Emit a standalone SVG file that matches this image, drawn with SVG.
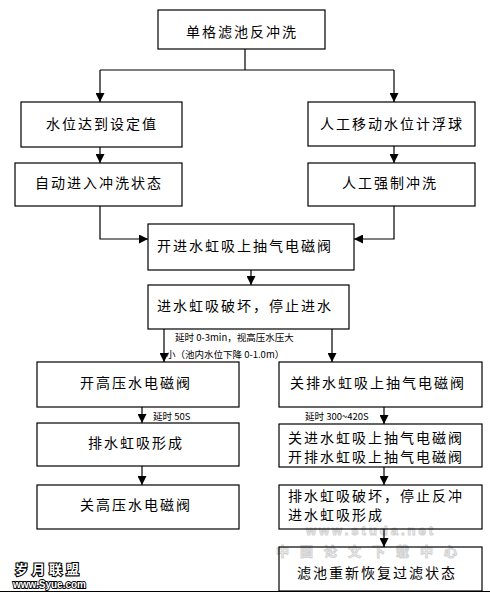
<svg xmlns="http://www.w3.org/2000/svg" width="490" height="593" viewBox="0 0 490 593">
<defs>
<marker id="ah" markerUnits="userSpaceOnUse" markerWidth="9" markerHeight="9" refX="9" refY="4.5" orient="auto">
<path d="M0,0 L9,4.5 L0,9 z" fill="#000"/>
</marker>
<style>
.box{fill:#fff;stroke:#000;stroke-width:1.2}
.t{font-family:"Noto Sans CJK SC","Noto Sans",sans-serif;font-size:14px;letter-spacing:2px;fill:#000}
.c{text-anchor:middle}
.s{font-family:"Noto Sans CJK SC","Liberation Serif",serif;font-size:9.5px;fill:#000}
.ln{fill:none;stroke:#000;stroke-width:1.2}
.ar{fill:none;stroke:#000;stroke-width:1.2;marker-end:url(#ah)}
.wm{font-weight:bold;fill:#f4f4f4;stroke:#c4c4c4;stroke-width:1}
</style>
</defs>
<rect width="490" height="593" fill="#fff"/>

<g id="watermark" opacity="0.75">
<text class="wm" x="371" y="535" font-family="Liberation Sans,sans-serif" font-size="13" letter-spacing="3" text-anchor="middle">www.studa.net</text>
<text class="wm" x="372" y="556" font-family="Noto Sans CJK SC,sans-serif" font-size="13" letter-spacing="11" text-anchor="middle">中国论文下载中心</text>
</g>

<g id="connectors">
<path class="ln" d="M245,49 V70 M100,70 H394"/>
<path class="ar" d="M100,70 V102"/>
<path class="ar" d="M394,70 V102"/>
<path class="ar" d="M100,147 V163"/>
<path class="ar" d="M394,146 V163"/>
<path class="ar" d="M100,206 V239 H148"/>
<path class="ar" d="M394,206 V239 H354"/>
<path class="ar" d="M251,270 V285"/>
<path class="ar" d="M164,329 V362"/>
<path class="ar" d="M332,329 V362"/>
<path class="ar" d="M142,407 V423"/>
<path class="ar" d="M384,407 V424"/>
<path class="ar" d="M142,466 V485"/>
<path class="ar" d="M384,467 V485"/>
<path class="ar" d="M384,529 V547"/>
<text class="s" x="175" y="341">延时 0-3min，视高压水压大</text>
<text class="s" x="166" y="358">小（池内水位下降 0-1.0m）</text>
<text class="s" x="153" y="420">延时 50S</text>
<text class="s" x="305" y="420">延时 300~420S</text>
</g>

<g id="n1"><rect class="box" x="158" y="10" width="167" height="39"/><text class="t c" x="242" y="37">单格滤池反冲洗</text></g>
<g id="n2"><rect class="box" x="21" y="102" width="161" height="45"/><text class="t c" x="102" y="129">水位达到设定值</text></g>
<g id="n3"><rect class="box" x="308" y="102" width="167" height="44"/><text class="t c" x="392" y="129">人工移动水位计浮球</text></g>
<g id="n4"><rect class="box" x="15" y="163" width="167" height="43"/><text class="t c" x="99" y="188">自动进入冲洗状态</text></g>
<g id="n5"><rect class="box" x="308" y="163" width="167" height="43"/><text class="t c" x="390" y="188">人工强制冲洗</text></g>
<g id="n6"><rect class="box" x="148" y="224" width="206" height="46"/><text class="t" x="157" y="251">开进水虹吸上抽气电磁阀</text></g>
<g id="n7"><rect class="box" x="148" y="285" width="201" height="44"/><text class="t" x="157" y="311">进水虹吸破坏，停止进水</text></g>
<g id="n8"><rect class="box" x="37" y="362" width="202" height="45"/><text class="t c" x="136" y="388">开高压水电磁阀</text></g>
<g id="n9"><rect class="box" x="279" y="362" width="203" height="45"/><text class="t c" x="378" y="388">关排水虹吸上抽气电磁阀</text></g>
<g id="n10"><rect class="box" x="37" y="423" width="202" height="43"/><text class="t c" x="136" y="448">排水虹吸形成</text></g>
<g id="n11"><rect class="box" x="279" y="424" width="203" height="43"/><text class="t" x="288" y="443">关进水虹吸上抽气电磁阀</text><text class="t" x="288" y="462">开排水虹吸上抽气电磁阀</text></g>
<g id="n12"><rect class="box" x="37" y="485" width="202" height="44"/><text class="t c" x="136" y="510">关高压水电磁阀</text></g>
<g id="n13"><rect class="box" x="279" y="485" width="203" height="44" fill-opacity="0"/><text class="t" x="288" y="501">排水虹吸破坏，停止反冲</text><text class="t" x="288" y="520">进水虹吸形成</text></g>
<g id="n14"><rect class="box" x="279" y="547" width="203" height="44" fill-opacity="0"/><text class="t c" x="377" y="578">滤池重新恢复过滤状态</text></g>

<g id="logo">
<text x="15" y="574" font-family="Noto Sans CJK SC,sans-serif" font-weight="bold" font-size="13" letter-spacing="4" fill="#fff" stroke="#000" stroke-width="2.2" paint-order="stroke">岁月联盟</text>
<text x="13" y="588" font-family="Liberation Sans,sans-serif" font-weight="bold" font-size="10" fill="#fff" stroke="#000" stroke-width="1.8" paint-order="stroke">www.Syue.com</text>
</g>

<path class="ln" d="M0,591.5 H490" stroke-width="2"/>
</svg>
